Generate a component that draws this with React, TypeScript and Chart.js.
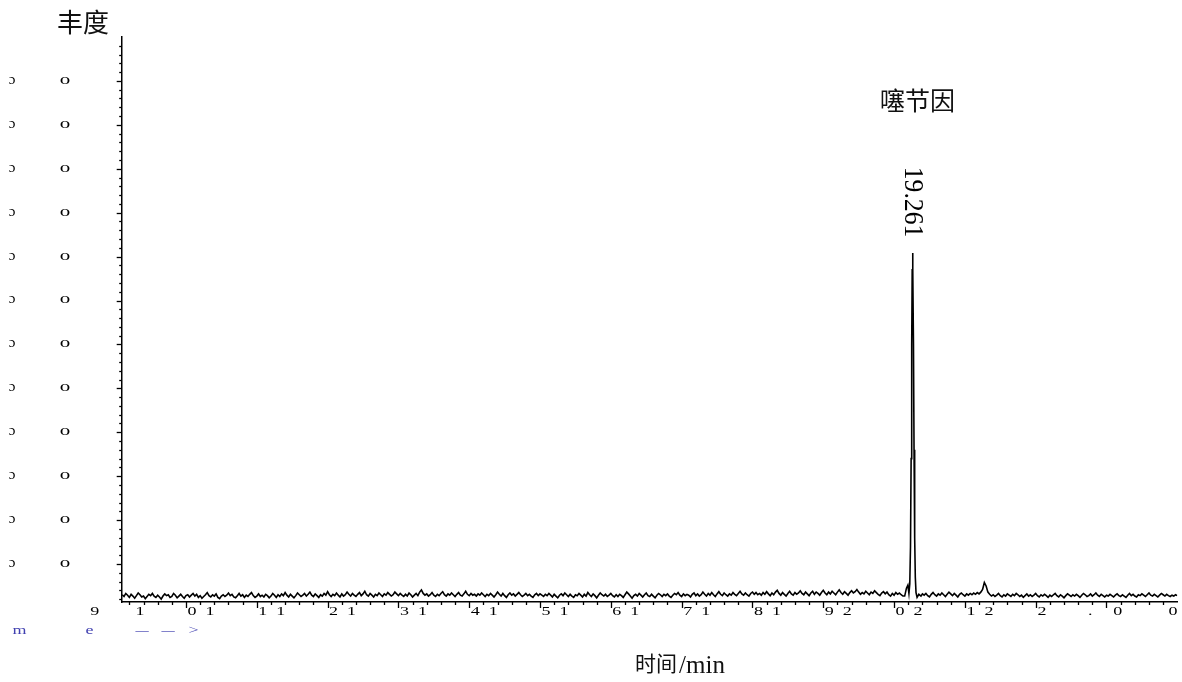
import React, { useEffect, useRef } from "react";
import { Chart, registerables } from "chart.js";

Chart.register(...registerables);

// ---------------- data ----------------
const SAMPLE_START = 8.1; // min
const SAMPLE_STEP = 0.025; // min
// baseline noise (abundance, arbitrary units), one value per sample; one row = 1 min
const NOISE_VALUES = [
  0.30, 0.26, 0.33, 0.29, 0.24, 0.31, 0.27, 0.22, 0.28, 0.34, 0.30, 0.25, 0.27, 0.21, 0.26, 0.31, 0.28, 0.33, 0.27, 0.24, 0.29, 0.25, 0.20, 0.27, 0.32, 0.28, 0.30, 0.24, 0.26, 0.33, 0.29, 0.23, 0.27, 0.31, 0.26, 0.22, 0.28, 0.30, 0.25, 0.29,
  0.33, 0.27, 0.31, 0.24, 0.28, 0.22, 0.26, 0.30, 0.35, 0.28, 0.25, 0.30, 0.27, 0.32, 0.24, 0.21, 0.27, 0.30, 0.26, 0.29, 0.34, 0.28, 0.31, 0.25, 0.23, 0.28, 0.33, 0.27, 0.30, 0.24, 0.29, 0.26, 0.31, 0.35, 0.28, 0.24, 0.27, 0.32, 0.26, 0.29,
  0.25, 0.31, 0.28, 0.23, 0.27, 0.33, 0.29, 0.24, 0.30, 0.26, 0.32, 0.28, 0.35, 0.29, 0.25, 0.31, 0.27, 0.23, 0.28, 0.34, 0.30, 0.26, 0.29, 0.33, 0.27, 0.31, 0.36, 0.29, 0.26, 0.32, 0.28, 0.24, 0.30, 0.27, 0.33, 0.29, 0.37, 0.30, 0.26, 0.31,
  0.28, 0.34, 0.29, 0.25, 0.32, 0.27, 0.30, 0.36, 0.31, 0.27, 0.33, 0.29, 0.26, 0.31, 0.35, 0.28, 0.32, 0.38, 0.30, 0.27, 0.33, 0.29, 0.25, 0.31, 0.28, 0.34, 0.30, 0.26, 0.32, 0.29, 0.35, 0.31, 0.27, 0.30, 0.36, 0.32, 0.28, 0.33, 0.29, 0.26,
  0.31, 0.27, 0.34, 0.30, 0.25, 0.29, 0.33, 0.28, 0.36, 0.41, 0.33, 0.29, 0.32, 0.27, 0.30, 0.35, 0.29, 0.26, 0.31, 0.28, 0.33, 0.37, 0.30, 0.27, 0.32, 0.29, 0.34, 0.30, 0.26, 0.31, 0.35, 0.29, 0.27, 0.32, 0.38, 0.31, 0.28, 0.33, 0.29, 0.31,
  0.27, 0.32, 0.29, 0.34, 0.30, 0.26, 0.31, 0.28, 0.33, 0.29, 0.25, 0.30, 0.36, 0.31, 0.27, 0.33, 0.28, 0.24, 0.30, 0.34, 0.29, 0.32, 0.27, 0.31, 0.35, 0.30, 0.26, 0.29, 0.33, 0.28, 0.31, 0.27, 0.24, 0.30, 0.33, 0.28, 0.32, 0.29, 0.26, 0.31,
  0.28, 0.33, 0.29, 0.25, 0.31, 0.27, 0.23, 0.29, 0.32, 0.28, 0.34, 0.30, 0.26, 0.31, 0.27, 0.24, 0.30, 0.28, 0.33, 0.29, 0.25, 0.31, 0.27, 0.35, 0.30, 0.26, 0.32, 0.28, 0.23, 0.29, 0.34, 0.30, 0.27, 0.31, 0.26, 0.29, 0.33, 0.28, 0.25, 0.30,
  0.26, 0.31, 0.28, 0.24, 0.30, 0.36, 0.32, 0.27, 0.22, 0.28, 0.31, 0.27, 0.33, 0.29, 0.25, 0.30, 0.34, 0.28, 0.26, 0.31, 0.27, 0.23, 0.29, 0.33, 0.30, 0.26, 0.31, 0.28, 0.32, 0.27, 0.24, 0.29, 0.33, 0.30, 0.35, 0.29, 0.26, 0.32, 0.28, 0.31,
  0.29, 0.25, 0.31, 0.34, 0.28, 0.32, 0.27, 0.30, 0.36, 0.31, 0.27, 0.33, 0.29, 0.35, 0.30, 0.26, 0.32, 0.37, 0.31, 0.28, 0.34, 0.30, 0.27, 0.32, 0.29, 0.35, 0.31, 0.28, 0.33, 0.38, 0.32, 0.29, 0.34, 0.30, 0.27, 0.33, 0.36, 0.31, 0.35, 0.30,
  0.33, 0.29, 0.35, 0.31, 0.37, 0.32, 0.28, 0.34, 0.30, 0.36, 0.40, 0.33, 0.29, 0.35, 0.31, 0.27, 0.33, 0.38, 0.32, 0.29, 0.35, 0.31, 0.34, 0.39, 0.33, 0.30, 0.36, 0.32, 0.28, 0.34, 0.38, 0.31, 0.36, 0.33, 0.29, 0.35, 0.40, 0.34, 0.30, 0.36,
  0.32, 0.38, 0.34, 0.30, 0.36, 0.41, 0.35, 0.31, 0.37, 0.33, 0.29, 0.35, 0.39, 0.34, 0.37, 0.42, 0.36, 0.31, 0.35, 0.32, 0.38, 0.34, 0.30, 0.36, 0.33, 0.39, 0.35, 0.31, 0.28, 0.34, 0.37, 0.32, 0.36, 0.30, 0.27, 0.33, 0.29, 0.35, 0.31, 0.34,
  0.30, 0.27, 0.30, 0.30, 0.30, 0.30, 0.30, 0.30, 0.30, 0.30, 0.30, 0.30, 0.30, 0.29, 0.33, 0.28, 0.25, 0.31, 0.35, 0.30, 0.27, 0.32, 0.29, 0.34, 0.30, 0.26, 0.31, 0.36, 0.32, 0.28, 0.33, 0.29, 0.25, 0.31, 0.34, 0.30, 0.27, 0.32, 0.29, 0.33,
  0.30, 0.34, 0.31, 0.35, 0.32, 0.36, 0.42, 0.58, 0.50, 0.36, 0.31, 0.27, 0.30, 0.26, 0.29, 0.33, 0.28, 0.25, 0.30, 0.27, 0.32, 0.29, 0.26, 0.31, 0.28, 0.33, 0.30, 0.26, 0.29, 0.24, 0.28, 0.32, 0.27, 0.30, 0.26, 0.29, 0.33, 0.28, 0.25, 0.30,
  0.27, 0.31, 0.28, 0.24, 0.29, 0.26, 0.30, 0.33, 0.28, 0.25, 0.30, 0.27, 0.23, 0.28, 0.32, 0.29, 0.26, 0.30, 0.27, 0.31, 0.28, 0.24, 0.29, 0.33, 0.30, 0.26, 0.28, 0.32, 0.27, 0.30, 0.34, 0.29, 0.26, 0.31, 0.28, 0.25, 0.29, 0.27, 0.31, 0.28,
  0.25, 0.29, 0.32, 0.28, 0.26, 0.30, 0.27, 0.24, 0.29, 0.33, 0.28, 0.31, 0.27, 0.25, 0.30, 0.28, 0.32, 0.29, 0.26, 0.30, 0.34, 0.29, 0.27, 0.31, 0.28, 0.25, 0.29, 0.33, 0.30, 0.27, 0.31, 0.28, 0.26, 0.29, 0.27, 0.30, 0.28,
];
// main peak, sampled finely
const PEAK_WINDOW = [19.13, 19.42];
const PEAK_TIMES = [19.15, 19.175, 19.195, 19.21, 19.222, 19.232, 19.241, 19.249, 19.256, 19.261, 19.267, 19.274, 19.282, 19.291, 19.3, 19.31, 19.325, 19.35, 19.38, 19.4];
const PEAK_VALUES = [0.27, 0.45, 0.52, 0.33, 0.55, 1.4, 3.4, 6.0, 7.7, 8.08, 7.7, 6.0, 3.6, 1.6, 0.7, 0.35, 0.24, 0.31, 0.27, 0.32];
const PEAK_RT = 19.261;
const PEAK_RT_LABEL = "19.261";
const PEAK_NAME = "噻节因";

// axes
const X_MIN = 8.092;
const X_MAX = 23.0;
const Y_MIN = 0.135;
const Y_MAX = 13;
const X_TICK_VALUES = [9, 10, 11, 12, 13, 14, 15, 16, 17, 18, 19, 20];
const X_TICK_TEXTS = ["01", "11", "21", "31", "41", "51", "61", "71", "81", "92", "02", "12"];
const X_EXTRA_VALUES = [7.71, 8.35, 21.09, 21.77, 22.16, 22.94];
const X_EXTRA_TEXTS = ["9", "1", "2", ".", "0", "0"];
const Y_TICK_VALUES = [1, 2, 3, 4, 5, 6, 7, 8, 9, 10, 11, 12];
const Y_TICK_TEXT_LEFT = "ɔ";
const Y_TICK_TEXT = "o";
const Y_TITLE = "丰度";
const X_TITLE_CJK = "时间";
const X_TITLE_UNIT = "/min";
const FOOT_GLYPHS = ["m", "e", "—", "—", ">"];

const SERIF = '"Liberation Serif", "DejaVu Serif", serif';
const CJK = '"Noto Sans CJK SC", sans-serif';

function drawStretched(
  ctx: CanvasRenderingContext2D,
  text: string,
  cx: number,
  cy: number,
  font: string,
  sx: number,
  color: string
) {
  ctx.save();
  ctx.font = font;
  ctx.fillStyle = color;
  ctx.textAlign = "center";
  ctx.textBaseline = "middle";
  ctx.translate(cx, cy);
  ctx.scale(sx, 1);
  ctx.fillText(text, 0, 0);
  ctx.restore();
}

const decorPlugin = {
  id: "decor",
  afterDraw(chart: any) {
    const ctx: CanvasRenderingContext2D = chart.ctx;
    const xs = chart.scales.x;
    const ys = chart.scales.y;
    const area = chart.chartArea;
    ctx.save();
    ctx.strokeStyle = "#000";
    ctx.lineWidth = 1.3;
    // y ticks (minor every 0.2, major every 1)
    for (let k = 1; k <= 64; k++) {
      const v = k / 5;
      if (v < Y_MIN) continue;
      const py = Math.round(ys.getPixelForValue(v)) + 0.5;
      const len = k % 5 === 0 ? 5 : 2.5;
      ctx.beginPath();
      ctx.moveTo(area.left - len, py);
      ctx.lineTo(area.left, py);
      ctx.stroke();
    }
    // x ticks
    for (let k = 41; k <= 114; k++) {
      const v = k / 5;
      const px = Math.round(xs.getPixelForValue(v)) + 0.5;
      const len = k % 5 === 0 ? 6 : 3;
      ctx.beginPath();
      ctx.moveTo(px, area.bottom);
      ctx.lineTo(px, area.bottom + len);
      ctx.stroke();
    }
    ctx.restore();

    const tickFont = `12px ${SERIF}`;
    const labelY = area.bottom + 9.5;
    X_TICK_VALUES.forEach((v, i) => {
      const cx = xs.getPixelForValue(v) + 15;
      const t = X_TICK_TEXTS[i];
      drawStretched(ctx, t[0], cx - 9, labelY, tickFont, 1.5, "#000");
      drawStretched(ctx, t[1], cx + 9, labelY, tickFont, 1.5, "#000");
    });
    X_EXTRA_VALUES.forEach((v, i) => {
      drawStretched(ctx, X_EXTRA_TEXTS[i], xs.getPixelForValue(v), labelY, tickFont, 1.5, "#000");
    });

    const yFont = `15px ${SERIF}`;
    Y_TICK_VALUES.forEach((v) => {
      const py = ys.getPixelForValue(v) - 1;
      drawStretched(ctx, Y_TICK_TEXT_LEFT, 12, py, yFont, 1.0, "#000");
      drawStretched(ctx, Y_TICK_TEXT, 65, py, yFont, 1.4, "#000");
    });

    // blue footer glyphs
    const footX = [19.5, 89.5, 142, 168, 193.5];
    FOOT_GLYPHS.forEach((g, i) => {
      const sx = g === "—" ? 1.1 : 1.5;
      drawStretched(ctx, g, footX[i], area.bottom + 29, `12px ${SERIF}`, sx, "#4040b0");
    });

    // y title
    ctx.save();
    ctx.fillStyle = "#111";
    ctx.font = `26px ${CJK}`;
    ctx.textAlign = "center";
    ctx.textBaseline = "middle";
    ctx.fillText(Y_TITLE, 83, 22);
    ctx.restore();

    // x title
    ctx.save();
    ctx.fillStyle = "#111";
    ctx.textBaseline = "alphabetic";
    ctx.textAlign = "left";
    ctx.font = `21px ${CJK}`;
    const w1 = ctx.measureText(X_TITLE_CJK).width;
    ctx.font = `25px ${SERIF}`;
    const w2 = ctx.measureText(X_TITLE_UNIT).width;
    const start = 680 - (w1 + w2 + 2) / 2;
    ctx.font = `21px ${CJK}`;
    ctx.fillText(X_TITLE_CJK, start, 671);
    ctx.font = `25px ${SERIF}`;
    ctx.fillText(X_TITLE_UNIT, start + w1 + 2, 673);
    ctx.restore();

    // peak annotations
    const pkX = xs.getPixelForValue(PEAK_RT);
    const pkTop = ys.getPixelForValue(PEAK_VALUES[PEAK_TIMES.indexOf(PEAK_RT)]);
    ctx.save();
    ctx.fillStyle = "#111";
    ctx.font = `25px ${CJK}`;
    ctx.textAlign = "center";
    ctx.textBaseline = "middle";
    ctx.fillText(PEAK_NAME, pkX + 5, 100);
    ctx.restore();

    ctx.save();
    ctx.fillStyle = "#000";
    ctx.font = `28px ${SERIF}`;
    ctx.textAlign = "center";
    ctx.textBaseline = "middle";
    ctx.translate(pkX - 0.5, pkTop - 51);
    ctx.rotate(Math.PI / 2);
    ctx.scale(0.92, 1);
    ctx.fillText(PEAK_RT_LABEL, 0, 0);
    ctx.restore();
  },
};

function buildPoints() {
  const pts: { x: number; y: number }[] = [];
  NOISE_VALUES.forEach((v, i) => {
    const t = SAMPLE_START + i * SAMPLE_STEP;
    if (t > PEAK_WINDOW[0] && t < PEAK_WINDOW[1]) return;
    pts.push({ x: t, y: v });
  });
  PEAK_TIMES.forEach((t, i) => pts.push({ x: t, y: PEAK_VALUES[i] }));
  pts.sort((a, b) => a.x - b.x);
  return pts;
}

export default function App() {
  const ref = useRef<HTMLCanvasElement | null>(null);
  useEffect(() => {
    if (!ref.current) return;
    const chart = new Chart(ref.current, {
      type: "line",
      data: {
        datasets: [
          {
            data: buildPoints(),
            borderColor: "#000",
            borderWidth: 1.6,
            pointRadius: 0,
            tension: 0,
            fill: false,
          },
        ],
      },
      options: {
        responsive: false,
        animation: false,
        layout: { padding: { top: 37, right: 4.7, left: 0, bottom: 0 } },
        plugins: { legend: { display: false }, tooltip: { enabled: false } },
        scales: {
          x: {
            type: "linear",
            min: X_MIN,
            max: X_MAX,
            ticks: { display: false },
            grid: { display: true, drawOnChartArea: false, drawTicks: false },
            border: { display: true, color: "#000", width: 1.5 },
            afterFit: (s: any) => {
              s.height = 80;
            },
          },
          y: {
            type: "linear",
            min: Y_MIN,
            max: Y_MAX,
            ticks: { display: false },
            grid: { display: true, drawOnChartArea: false, drawTicks: false },
            border: { display: true, color: "#000", width: 1.5 },
            afterFit: (s: any) => {
              s.width = 121.7;
            },
          },
        },
      } as any,
      plugins: [decorPlugin],
    });
    return () => chart.destroy();
  }, []);
  return (
    <div style={{ position: "absolute", left: 0, top: 0, width: 1182, height: 682, background: "#fff" }}>
      <canvas ref={ref} width={1182} height={682} style={{ display: "block" }} />
    </div>
  );
}
